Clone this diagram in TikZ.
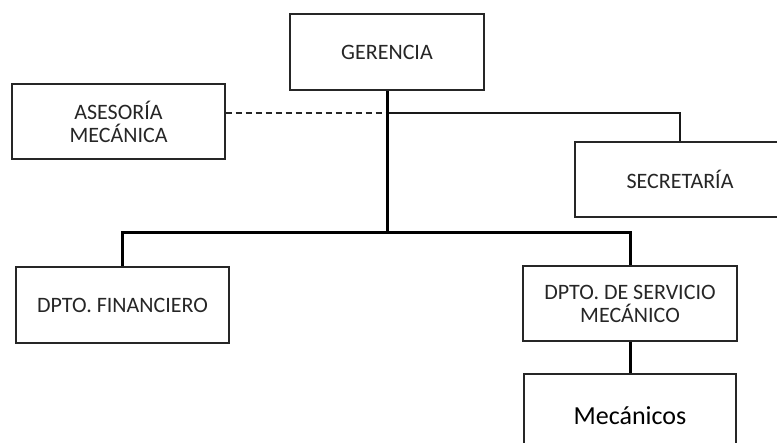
\documentclass[tikz,border=0pt]{standalone}
\usepackage{fontspec}
\setmainfont{Carlito}
\begin{document}
\begin{tikzpicture}[x=1pt,y=-1pt,
  unit/.style={draw=black!85, line width=1.3pt, fill=white, align=center,
    font=\fontsize{22}{23}\selectfont, text=black!85, inner sep=0pt},
  heavy/.style={line width=3pt, black},
  light/.style={line width=1.3pt, black!90},
  adviser/.style={line width=1.3pt, black!85, dash pattern=on 6pt off 4pt}]
\useasboundingbox (0,0) rectangle (777,443);
\clip (0,0) rectangle (777,443);
\fill[white] (0,0) rectangle (777,443);

% boxes
\node[unit, minimum width=194pt, minimum height=76pt] (ger) at (387,52) {GERENCIA};
\node[unit, minimum width=213pt, minimum height=75pt] (ase) at (118.5,121.5) {ASESORÍA\\MECÁNICA};
\node[unit, minimum width=210pt, minimum height=75pt] (sec) at (680,179.5) {SECRETARÍA};
\node[unit, minimum width=213pt, minimum height=76pt] (fin) at (122.5,305) {DPTO. FINANCIERO};
\node[unit, minimum width=214pt, minimum height=75pt] (ser) at (630,303.5) {DPTO. DE SERVICIO\\MECÁNICO};
\node[unit, minimum width=212pt, minimum height=84pt, font=\fontsize{26}{28}\selectfont, text=black] (mec) at (630,416) {Mecánicos};

% junction points on the trunk
\coordinate (tap) at (387,113);
\coordinate (bus) at (387,233);

% connectors
\draw[adviser] (tap -| ase.east) -- (tap);
\draw[light] (tap) -| (sec.north);
\draw[heavy] (ger.south) -- (bus);
\draw[heavy] (fin.north) |- (bus) -| (ser.north);
\draw[heavy] (ser.south) -- (mec.north);
\end{tikzpicture}
\end{document}
